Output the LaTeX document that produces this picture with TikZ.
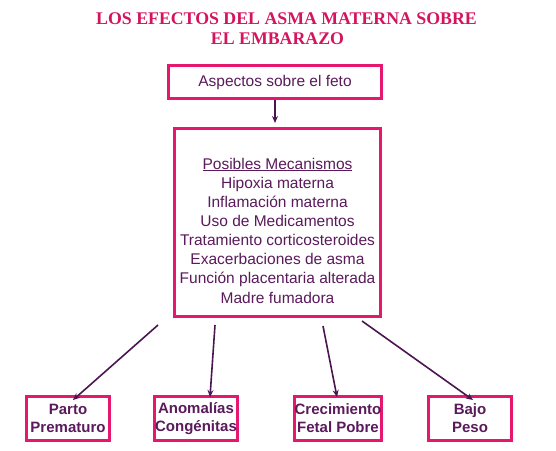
\documentclass[tikz,border=0pt]{standalone}
\usepackage{fontspec}
\setmainfont{Liberation Sans}
\newfontfamily\titlefont{Liberation Serif}
\usetikzlibrary{arrows.meta,calc}
\definecolor{pinkb}{HTML}{E5176E}
\definecolor{titlec}{HTML}{D4145F}
\definecolor{purp}{HTML}{5A1A5C}
\definecolor{arrc}{HTML}{4A1550}
\tikzset{
  pbox/.style={draw=pinkb, line width=3pt, fill=white, text=purp, align=center, inner sep=0pt},
  small/.style={pbox, minimum width=83pt, minimum height=44pt, font=\bfseries\fontsize{15}{18}\selectfont},
  arr/.style={draw=arrc, line width=1.6pt, -{Stealth[length=7pt,width=6pt]}},
  ttl/.style={text=titlec, font=\titlefont\bfseries\fontsize{17.8}{20}\selectfont, inner sep=0pt}
}
\begin{document}
\begin{tikzpicture}[x=1pt,y=-1pt]
\useasboundingbox (0,0) rectangle (556,450);
\node[ttl] (t1) at (286.5,19) {LOS EFECTOS DEL ASMA MATERNA SOBRE};
\node[ttl] (t2) at (277.5,39) {EL EMBARAZO};
\node[pbox, minimum width=213pt, minimum height=33pt, font=\fontsize{15.5}{18}\selectfont] (feto) at (275,82) {Aspectos sobre el feto};
\node[pbox, minimum width=206pt, minimum height=188pt] (mech) at (277.5,222.5) {};
\node[text=purp, align=center, inner sep=0pt, font=\fontsize{15.5}{19.15}\selectfont] (mtxt) at (277.5,230.5)
  {\underline{Posibles Mecanismos}\\ Hipoxia materna\\ Inflamación materna\\ Uso de Medicamentos\\ Tratamiento corticosteroides\\ Exacerbaciones de asma\\ Función placentaria alterada\\ Madre fumadora};
\node[small] (a) at (68,418.5) {Parto\\Prematuro};
\node[small] (b) at (196,418.5) {Anomalías\\Congénitas};
\node[small] (c) at (338,418.5) {Crecimiento\\Fetal Pobre};
\node[small] (d) at (470,418.5) {Bajo\\Peso};
\draw[arr] (feto.south) -- ++(0,23) coordinate (fetoend);
\coordinate (s1) at ($(mech.south west)+(-15,7)$);
\coordinate (s2) at ($(mech.south)+(-62.5,7)$);
\coordinate (s3) at ($(mech.south)+(45.5,8)$);
\coordinate (s4) at ($(mech.south east)+(-20,3)$);
\coordinate (e1) at ($(a.north)+(5,5)$);
\coordinate (e2) at ($(b.north)+(14,2)$);
\coordinate (e3) at ($(c.north)+(-1,2)$);
\coordinate (e4) at ($(d.north)+(3,5)$);
\draw[arr] (s1) -- (e1);
\draw[arr] (s2) -- (e2);
\draw[arr] (s3) -- (e3);
\draw[arr] (s4) -- (e4);
\end{tikzpicture}
\end{document}
